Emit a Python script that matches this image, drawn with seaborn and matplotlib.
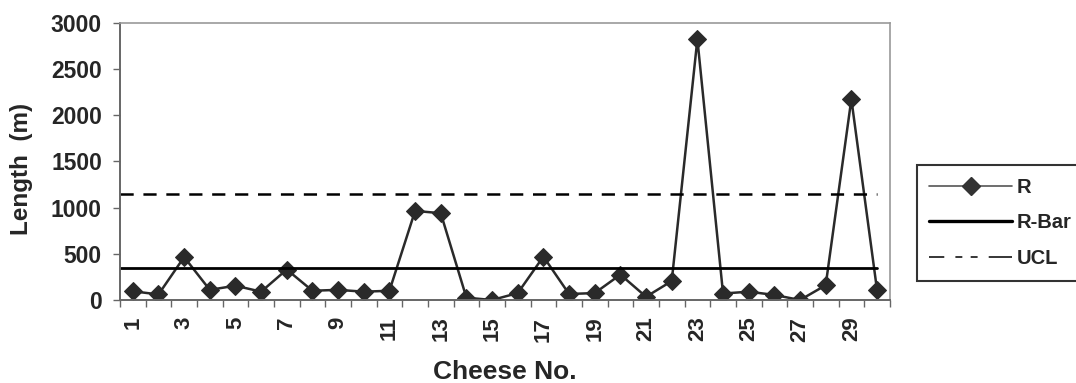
import matplotlib
matplotlib.use("Agg")
import matplotlib.pyplot as plt
from matplotlib.lines import Line2D
import seaborn as sns
import numpy as np
import pandas as pd

cheese_no = list(range(1, 31))
r_values = [95, 60, 465, 110, 155, 90, 330, 100, 110, 90,
            100, 965, 940, 25, 0, 75, 470, 65, 75, 275,
            35, 205, 2825, 70, 90, 55, 0, 160, 2175, 110]
r_bar = 343
ucl = 1144
x_tick_labels = [str(i) for i in range(1, 31, 2)]
y_ticks = [0, 500, 1000, 1500, 2000, 2500, 3000]

sns.set_style("white")
plt.rcParams['font.family'] = ['Liberation Sans', 'DejaVu Sans']
plt.rcParams['font.weight'] = 'bold'
plt.rcParams['lines.scale_dashes'] = False

fig = plt.figure(figsize=(10.76, 3.83), dpi=100)
ax = fig.add_axes([0.1115, 0.2167, 0.7155, 0.7233])

df = pd.DataFrame({"Cheese No.": cheese_no, "R": r_values})
sns.lineplot(data=df, x="Cheese No.", y="R", ax=ax, color="#2a2a2a",
             linewidth=1.8, marker="D", markersize=9.5, markeredgecolor="#2a2a2a",
             label="R")
ax.plot([0.5, cheese_no[-1]], [r_bar, r_bar], color="black", linewidth=2.0, label="R-Bar")
ax.plot([0.5, cheese_no[-1]], [ucl, ucl], color="black", linewidth=1.8,
        dashes=(9.5, 7), label="UCL")

ax.set_xlim(0.5, 30.5)
ax.set_ylim(0, 3000)
ax.set_yticks(y_ticks)
ax.set_yticklabels([str(v) for v in y_ticks], fontsize=16.5, fontweight='bold')
ax.set_xticks(list(range(1, 31, 2)))
ax.set_xticklabels(x_tick_labels, rotation=90, fontsize=16, fontweight='bold')
ax.set_xticks(np.arange(0.5, 31, 1), minor=True)
ax.tick_params(axis='x', which='major', length=0, pad=12)
ax.tick_params(axis='x', which='minor', length=5, width=1, color="#666666", direction='out', bottom=True)
ax.tick_params(axis='y', which='major', length=5, width=1, color="#666666", direction='out', left=True, pad=8)

ax.set_xlabel("Cheese No.", fontsize=19, fontweight='bold', labelpad=13)
ax.set_ylabel("Length  (m)", fontsize=17.5, fontweight='bold')
ax.yaxis.set_label_coords(-0.113, 0.473)

for s in ["top", "right"]:
    ax.spines[s].set_color("#999999")
    ax.spines[s].set_linewidth(1.2)
for s in ["left", "bottom"]:
    ax.spines[s].set_color("#666666")
    ax.spines[s].set_linewidth(1.4)

ax.get_legend().remove()
handles = [
    Line2D([], [], color="#555555", linewidth=1.2, marker="D", markersize=9.5,
           markerfacecolor="#333333", markeredgecolor="#333333"),
    Line2D([], [], color="black", linewidth=2.4),
    Line2D([], [], color="black", linewidth=1.1, dashes=(11, 8, 5, 6, 5, 8, 17, 50)),
]
leg = fig.legend(handles, ["R", "R-Bar", "UCL"], loc="upper left",
                 bbox_to_anchor=(0.852, 0.569), frameon=True, fancybox=False,
                 handlelength=4.1, prop={'weight': 'bold', 'size': 14.5},
                 borderpad=0.62, labelspacing=0.84, handletextpad=0.25,
                 borderaxespad=0)
leg.get_frame().set_edgecolor("black")
leg.get_frame().set_linewidth(1.5)

fig.savefig("out.png", dpi=100)
